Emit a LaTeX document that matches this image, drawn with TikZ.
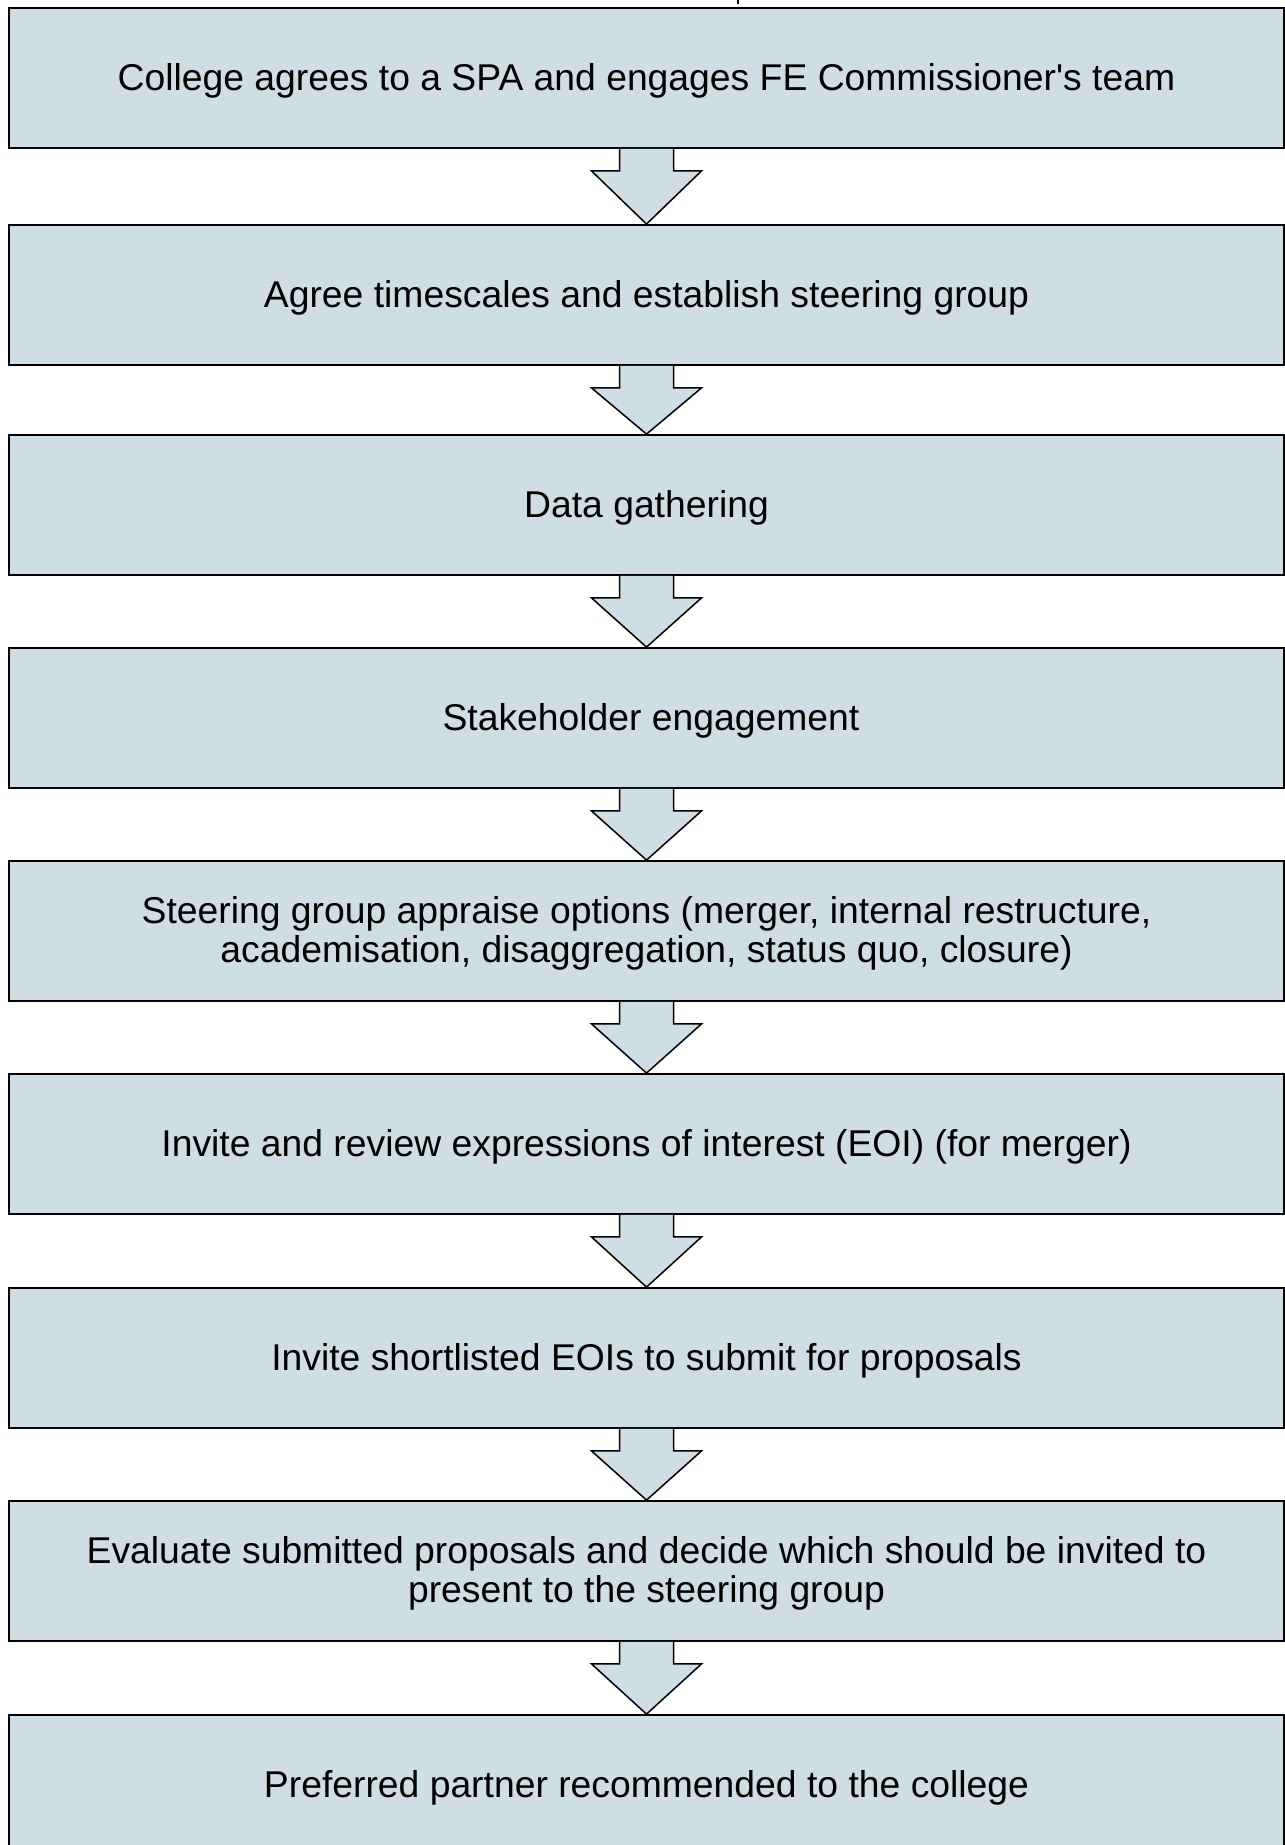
\documentclass[tikz,border=0pt]{standalone}
\usepackage{fontspec}
\setmainfont{Liberation Sans}
\usetikzlibrary{calc}
\definecolor{boxfill}{RGB}{207,221,228}
\tikzset{
  stepbox/.style={draw=black, fill=boxfill, line width=1.8pt, rectangle,
    minimum width=1275pt, minimum height=140pt, inner sep=0pt},
  steptext/.style={inner sep=0pt, align=center, font=\fontsize{37.3}{39}\selectfont},
  flowarrow/.style={draw=black, fill=boxfill, line width=1.5pt, line join=miter}
}
\newcommand{\flowarr}[2]{%
  \path (#1.south) coordinate (s) (#2.north) coordinate (t);
  \draw[flowarrow] ($(s)+(-27,0)$) -- ($(s)+(-27,22)$) -- ($(s)+(-55,22)$) -- (t)
    -- ($(s)+(55,22)$) -- ($(s)+(27,22)$) -- ($(s)+(27,0)$);
}
\newcommand{\boxtext}[3][0]{%
  \node[steptext] (#2t) at ($(#2.center)+(#1,2.5)$) {#3};
}
\begin{document}
\begin{tikzpicture}[x=1pt,y=-1pt]
\useasboundingbox (0,0) rectangle (1285,1845);
\clip (0,0) rectangle (1285,1845);
\draw[line width=1.6pt] (738,0) -- (738,4);
\node[stepbox] (b1) at (646.5,78) {};
\node[stepbox] (b2) at (646.5,295) {};
\node[stepbox] (b3) at (646.5,505) {};
\node[stepbox] (b4) at (646.5,718) {};
\node[stepbox] (b5) at (646.5,931) {};
\node[stepbox] (b6) at (646.5,1144) {};
\node[stepbox] (b7) at (646.5,1358) {};
\node[stepbox] (b8) at (646.5,1571) {};
\node[stepbox] (b9) at (646.5,1785) {};
\boxtext{b1}{College agrees to a SPA and engages FE Commissioner\textquotesingle s team}
\boxtext{b2}{Agree timescales and establish steering group}
\boxtext{b3}{Data gathering}
\boxtext[4.5]{b4}{Stakeholder engagement}
\boxtext{b5}{Steering group appraise options (merger, internal restructure,\\academisation, disaggregation, status quo, closure)}
\boxtext{b6}{Invite and review expressions of interest (EOI) (for merger)}
\boxtext{b7}{Invite shortlisted EOIs to submit for proposals}
\boxtext{b8}{Evaluate submitted proposals and decide which should be invited to\\present to the steering group}
\boxtext{b9}{Preferred partner recommended to the college}
\flowarr{b1}{b2}
\flowarr{b2}{b3}
\flowarr{b3}{b4}
\flowarr{b4}{b5}
\flowarr{b5}{b6}
\flowarr{b6}{b7}
\flowarr{b7}{b8}
\flowarr{b8}{b9}
\end{tikzpicture}
\end{document}
